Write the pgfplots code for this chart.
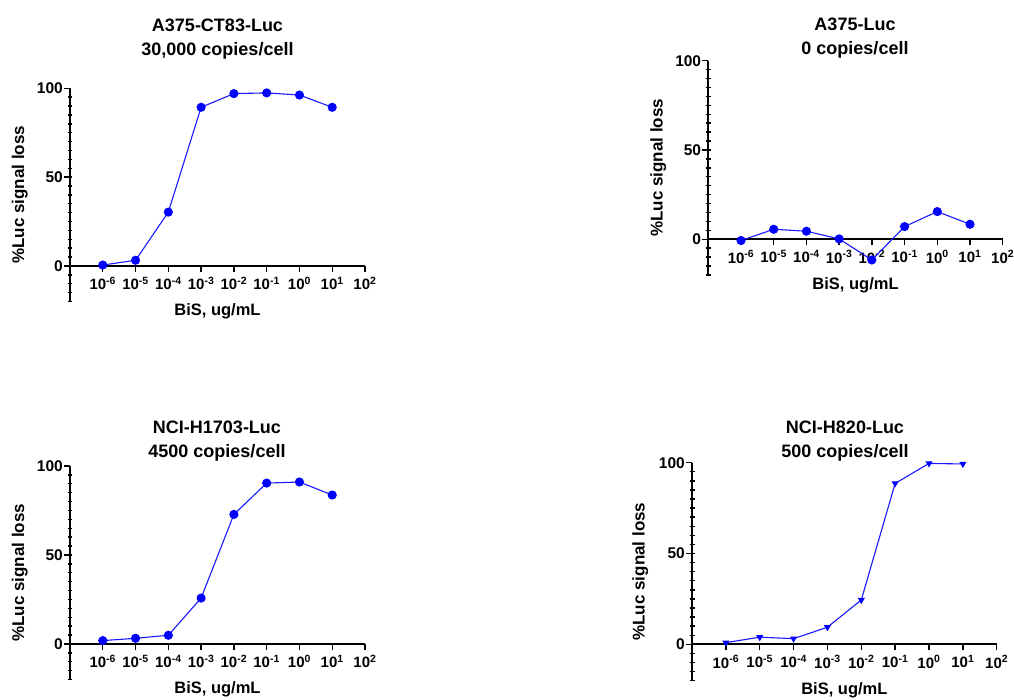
\documentclass[border=0pt]{standalone}
\usepackage{fontspec}
\setmainfont{Liberation Sans}
\usepackage{pgfplots}
\usepackage{pgfplotstable}
\pgfplotsset{compat=1.18}
\definecolor{lineblue}{RGB}{25,25,255}

\pgfplotstableread{
x y
1e-6 0.5
1e-5 3.2
1e-4 30.3
1e-3 89.3
1e-2 97.0
1e-1 97.4
1e0 96.2
1e1 89.3
}\dataA
\pgfplotstableread{
x y
1e-6 -0.7
1e-5 5.6
1e-4 4.5
1e-3 0.2
1e-2 -11.6
1e-1 7.1
1e0 15.5
1e1 8.4
}\dataB
\pgfplotstableread{
x y
1e-6 1.9
1e-5 3.2
1e-4 4.9
1e-3 25.8
1e-2 72.8
1e-1 90.4
1e0 91.0
1e1 83.7
}\dataC
\pgfplotstableread{
x y
1e-6 0.9
1e-5 3.9
1e-4 3.1
1e-3 9.4
1e-2 24.4
1e-1 88.6
1e0 99.6
1e1 99.3
}\dataD

\pgfplotsset{
  /pgfplots/mypanel/.style={
    scale only axis,
    anchor=south west,
    xmin=1e-7, xmax=1e2,
    ymin=-20, ymax=100,
    axis x line=middle, axis y line=left,
    axis line style={-, line width=1.8bp, black},
    xtick={1e-6,1e-5,1e-4,1e-3,1e-2,1e-1,1e0,1e1,1e2},
    xticklabels={10\textsuperscript{-6},10\textsuperscript{-5},10\textsuperscript{-4},10\textsuperscript{-3},10\textsuperscript{-2},10\textsuperscript{-1},10\textsuperscript{0},10\textsuperscript{1},10\textsuperscript{2}},
    xminorticks=false,
    ytick={0,50,100},
    minor ytick={-20,-15,...,95},
    yminorticks=true,
    tick align=outside,
    major tick length=6bp,
    minor tick length=5bp,
    tick style={black, line width=1.4bp},
    minor tick style={xshift=2.5bp},
    /pgf/number format/assume math mode=true,
    yticklabel style={font=\fontsize{15.5bp}{17bp}\selectfont\bfseries, inner sep=1bp},
    xticklabel style={font=\fontsize{15bp}{17bp}\selectfont\bfseries, inner sep=1bp, yshift=-4bp},
    ylabel={\%Luc signal loss},
    xlabel={BiS, ug/mL},
    every axis y label/.style={at={(axis description cs:-0.17,0.5)}, rotate=90, anchor=center, font=\fontsize{17bp}{19bp}\selectfont\bfseries},
    every axis x label/.style={at={(axis description cs:0.5,0)}, anchor=north, yshift=-2bp, inner sep=0pt, font=\fontsize{16.5bp}{18bp}\selectfont\bfseries},
    clip=false,
  },
}
\newcommand\ttl{\fontsize{18bp}{24bp}\selectfont\bfseries}

\begin{document}
\begin{tikzpicture}[x=1bp,y=1bp]
\path[use as bounding box, fill=white] (0,0) rectangle (1014,700);

\begin{axis}[xmode=log, mypanel, at={(70bp,398.5bp)}, width=295bp, height=213.2bp]
\addplot[lineblue, line width=1.1bp, mark=*, mark size=4bp, mark options={fill=blue, draw=blue}] table[x=x,y=y] {\dataA};
\end{axis}

\begin{axis}[xmode=log, mypanel, at={(708.3bp,425bp)}, width=294.4bp, height=214.3bp]
\addplot[lineblue, line width=1.1bp, mark=*, mark size=4bp, mark options={fill=blue, draw=blue}] table[x=x,y=y] {\dataB};
\end{axis}

\begin{axis}[xmode=log, mypanel, at={(70bp,20.4bp)}, width=295bp, height=213.6bp]
\addplot[lineblue, line width=1.1bp, mark=*, mark size=4bp, mark options={fill=blue, draw=blue}] table[x=x,y=y] {\dataC};
\end{axis}

\begin{axis}[xmode=log, mypanel, at={(692bp,19.4bp)}, width=304.7bp, height=217.9bp]
\addplot[lineblue, line width=1.1bp, mark=triangle*, mark size=3bp, mark options={rotate=180, fill=blue, draw=blue}] table[x=x,y=y] {\dataD};
\end{axis}

\node[align=center, font=\ttl] at (217.5,660.5) {A375-CT83-Luc\\30,000 copies/cell};
\node[align=center, font=\ttl] at (855,661.5) {A375-Luc\\0 copies/cell};
\node[align=center, font=\ttl] at (217,259.2) {NCI-H1703-Luc\\4500 copies/cell};
\node[align=center, font=\ttl] at (845,259.2) {NCI-H820-Luc\\500 copies/cell};
\end{tikzpicture}
\end{document}
